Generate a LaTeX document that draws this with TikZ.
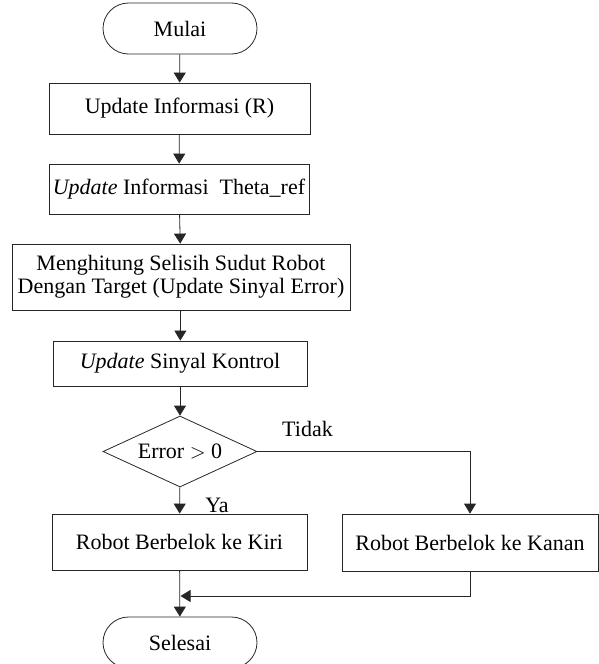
\documentclass[tikz,border=0pt]{standalone}
\usepackage{fontspec}
\setmainfont{Liberation Serif}
\usetikzlibrary{shapes.geometric,shapes.misc,arrows.meta}
\newcommand{\flowbox}[4]% name, x, y, width
{\node[proses, minimum width=#4] (#1) at (#2,#3)}

\begin{document}
\begin{tikzpicture}[x=1pt,y=-1pt,
  >={Triangle[length=10pt,width=12pt]},
  garis/.style={draw=black!85, line width=0.8pt},
  proses/.style={garis, rectangle, align=center, inner sep=0pt, minimum height=51pt},
  terminal/.style={garis, rounded rectangle, minimum width=154pt, minimum height=51pt, inner sep=0pt},
  keputusan/.style={garis, diamond, aspect=2.2, minimum width=154pt, minimum height=71pt, inner sep=0pt},
  font=\fontsize{22}{23}\selectfont]
  \useasboundingbox (0,0) rectangle (599,664);
  \node[terminal] (mulai) at (180,28.5) {Mulai};
  \flowbox{infoR}{179.5}{108.5}{261pt} {Update Informasi (R)};
  \flowbox{infoT}{179}{189}{260pt}[minimum height=50pt] {\textit{Update} Informasi~~Theta\_ref};
  \flowbox{hitung}{181}{277}{338pt}[minimum height=66pt] {Menghitung Selisih Sudut Robot\\Dengan Target (Update Sinyal Error)};
  \flowbox{kontrol}{180}{363.5}{254pt}[minimum height=45pt] {\textit{Update} Sinyal Kontrol};
  \node[keputusan] (cek) at (180,451.5) {Error $>$ 0};
  \flowbox{kiri}{179.5}{542}{255pt}[minimum height=56pt] {Robot Berbelok ke Kiri};
  \flowbox{kanan}{470}{542.5}{256pt}[minimum height=57pt] {Robot Berbelok ke Kanan};
  \node[terminal] (selesai) at (180,642.5) {Selesai};
  \node (tidak) at (307.5,429) {Tidak};
  \node (ya) at (217,505) {Ya};
  \coordinate (gabung) at (180.5,596);
  \draw[garis,->] (mulai) -- (infoR);
  \draw[garis,->] (infoR) -- (infoT);
  \draw[garis,->] (infoT) -- (hitung);
  \draw[garis,->] (hitung) -- (kontrol);
  \draw[garis,->] (kontrol) -- (cek);
  \draw[garis,->] (cek) -- (kiri);
  \draw[garis,->] (cek.east) -| (kanan.north);
  \draw[garis,->] (kanan.south) |- (gabung);
  \draw[garis,->] (kiri) -- (selesai);
\end{tikzpicture}
\end{document}
